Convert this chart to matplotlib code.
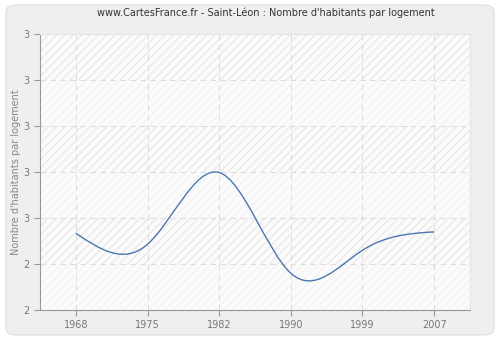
import matplotlib
matplotlib.use("Agg")
import numpy as np
import matplotlib.pyplot as plt
from matplotlib.path import Path
from matplotlib.patches import PathPatch, FancyBboxPatch

years = ["1968", "1975", "1982", "1990", "1999", "2007"]
values = [2.467, 2.443, 2.599, 2.380, 2.430, 2.470]
y_ticks = [2.3, 2.4, 2.5, 2.6, 2.7, 2.8, 2.9]
y_tick_labels = ["2", "2", "3", "3", "3", "3", "3"]

title = "www.CartesFrance.fr - Saint-Léon : Nombre d'habitants par logement"
y_label = "Nombre d'habitants par logement"


def spline_path(ys):
    # natural cubic spline through the points (unit spacing), written as bezier segments
    ys = np.asarray(ys, dtype=float)
    n = len(ys)
    A = np.zeros((n, n))
    b = np.zeros(n)
    A[0, 0] = A[-1, -1] = 1
    for i in range(1, n - 1):
        A[i, i - 1], A[i, i], A[i, i + 1] = 1, 4, 1
        b[i] = 6 * (ys[i + 1] - 2 * ys[i] + ys[i - 1])
    M = np.linalg.solve(A, b)
    slopes = np.zeros(n)
    for i in range(n - 1):
        slopes[i] = ys[i + 1] - ys[i] - (2 * M[i] + M[i + 1]) / 6
    slopes[-1] = ys[-1] - ys[-2] + (M[-2] + 2 * M[-1]) / 6
    verts = [(0, ys[0])]
    codes = [Path.MOVETO]
    for i in range(n - 1):
        verts += [(i + 1 / 3, ys[i] + slopes[i] / 3),
                  (i + 2 / 3, ys[i + 1] - slopes[i + 1] / 3),
                  (i + 1, ys[i + 1])]
        codes += [Path.CURVE4] * 3
    return Path(verts, codes)


fig = plt.figure(figsize=(5, 3.4), dpi=100)
fig.patch.set_facecolor("white")
fig.patches.append(FancyBboxPatch((0.012, 0.015), 0.976, 0.97,
                                  boxstyle="round,pad=0,rounding_size=0.02",
                                  transform=fig.transFigure, facecolor="#efefef",
                                  edgecolor="#e2e2e2", linewidth=1, zorder=-10))

ax = fig.add_axes([0.08, 0.088, 0.86, 0.812])
ax.set_facecolor("#fbfbfb")
# every other band between grid lines is hatched
for lo, hi in zip(y_ticks[:-1], y_ticks[1:]):
    odd = round((lo - y_ticks[0]) * 10) % 2 == 1
    ax.axhspan(lo, hi, facecolor="none", edgecolor="#e9e9e9" if odd else "#f4f4f4",
               hatch="////", linewidth=0, zorder=0)

x = list(range(len(years)))
ax.add_patch(PathPatch(spline_path(values), facecolor="none",
                       edgecolor="#4a78ad", linewidth=1, zorder=3))

ax.set_xlim(-0.5, len(years) - 0.5)
ax.set_ylim(y_ticks[0], y_ticks[-1])
ax.set_xticks(x)
ax.set_xticklabels(years)
ax.set_yticks(y_ticks)
ax.set_yticklabels(y_tick_labels)

ax.grid(True, color="#dddddd", linestyle=(0, (5, 4)), linewidth=0.8)
ax.set_axisbelow(True)
for s in ["top", "right"]:
    ax.spines[s].set_color("#e4e4e4")
for s in ["left", "bottom"]:
    ax.spines[s].set_color("#999999")
ax.tick_params(colors="#999999", labelcolor="#777777", labelsize=7, length=4, width=0.8)

ax.set_ylabel(y_label, fontsize=7, color="#888888", labelpad=2)
fig.text(0.532, 0.962, title, ha="center", va="center", fontsize=7, color="#333333")

fig.savefig("out.png", dpi=100)
